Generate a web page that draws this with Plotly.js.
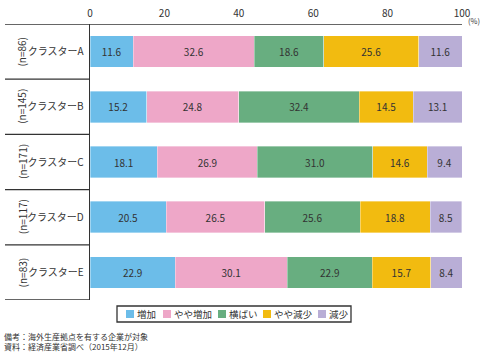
<!DOCTYPE html>
<html>
<head>
<meta charset="utf-8">
<script src="https://cdn.plot.ly/plotly-3.0.1.min.js"></script>
<style>html,body{margin:0;padding:0;background:#fff;}#chart{width:488px;height:353px;}</style>
</head>
<body>
<div id="chart"></div>
<script>
const categories = ["クラスターA", "クラスターB", "クラスターC", "クラスターD", "クラスターE"];
const sampleSizes = ["(n=86)", "(n=145)", "(n=171)", "(n=117)", "(n=83)"];
const seriesNames = ["増加", "やや増加", "横ばい", "やや減少", "減少"];
const seriesColors = ["#6cbde9", "#eea7c8", "#68ae80", "#f2bb10", "#b9aed6"];
const increase = [11.6, 15.2, 18.1, 20.5, 22.9];
const slightIncrease = [32.6, 24.8, 26.9, 26.5, 30.1];
const flat = [18.6, 32.4, 31.0, 25.6, 22.9];
const slightDecrease = [25.6, 14.5, 14.6, 18.8, 15.7];
const decrease = [11.6, 13.1, 9.4, 8.5, 8.4];
const xTicks = [0, 20, 40, 60, 80, 100];
const notes = ["備考：海外生産拠点を有する企業が対象", "資料：経済産業省調べ（2015年12月）"];

const seriesValues = [increase, slightIncrease, flat, slightDecrease, decrease];
const FONT = '"Noto Sans CJK JP", "Noto Sans", sans-serif';
const W = 488, H = 353, L = 90, R = 462, T = 24, B = 300;
const px = x => (x - L) / (R - L);
const py = y => (B - y) / (B - T);

const traces = seriesNames.map((name, i) => ({
  type: 'bar',
  orientation: 'h',
  name: name,
  y: categories,
  x: seriesValues[i],
  marker: {color: seriesColors[i], line: {color: 'rgba(255,255,255,0.6)', width: 0.6}},
  texttemplate: '%{x:.1f}',
  textposition: 'inside',
  insidetextanchor: 'middle',
  textangle: 0,
  textfont: {family: FONT, size: 10, color: '#333'},
  hoverinfo: 'skip'
}));

const shapes = [];
for (let k = 0; k <= categories.length; k++) {
  shapes.push({type: 'line', xref: 'paper', yref: 'y', x0: px(5), x1: k === 0 ? 1 : 0,
    y0: k - 0.5, y1: k - 0.5, line: {color: '#333', width: 1.3}});
}
// legend box
shapes.push({type: 'rect', xref: 'paper', yref: 'paper', x0: px(117), x1: px(351), y0: py(306), y1: py(322),
  line: {color: '#333', width: 1.3}, fillcolor: 'rgba(0,0,0,0)'});
const legendX = [126, 163, 218, 263, 318];
const annotations = [];
seriesNames.forEach((n, i) => {
  shapes.push({type: 'rect', xref: 'paper', yref: 'paper', x0: px(legendX[i]), x1: px(legendX[i] + 8),
    y0: py(318), y1: py(310), line: {width: 0}, fillcolor: seriesColors[i]});
  annotations.push({xref: 'paper', yref: 'paper', x: px(legendX[i] + 9), y: py(314), xanchor: 'left', yanchor: 'middle',
    text: n, showarrow: false, font: {family: FONT, size: 9.5, color: '#333'}});
});
sampleSizes.forEach((s, i) => {
  annotations.push({xref: 'paper', yref: 'y', x: px(22), y: categories[i], text: s, textangle: -90,
    showarrow: false, xanchor: 'center', yanchor: 'middle', font: {family: FONT, size: 10, color: '#333'}});
});
annotations.push({xref: 'paper', yref: 'paper', x: px(474), y: py(21), text: '(%)', showarrow: false,
  xanchor: 'center', yanchor: 'middle', font: {family: FONT, size: 7.5, color: '#333'}});
annotations.push({xref: 'paper', yref: 'paper', x: px(2), y: py(341), text: notes.join('<br>'), showarrow: false,
  xanchor: 'left', yanchor: 'middle', align: 'left', font: {family: FONT, size: 8, color: '#333'}});

const layout = {
  width: W, height: H,
  margin: {l: L, r: W - R, t: T, b: H - B, pad: 0},
  barmode: 'stack',
  bargap: 0.43,
  showlegend: false,
  paper_bgcolor: '#fff', plot_bgcolor: '#fff',
  font: {family: FONT, size: 10, color: '#333'},
  xaxis: {side: 'top', range: [0, 100], tickvals: xTicks, ticktext: xTicks.map(String), showgrid: false,
    zeroline: false, showline: false, ticks: '', ticklabelstandoff: 4, tickfont: {family: FONT, size: 10, color: '#333'},
    fixedrange: true},
  yaxis: {type: 'category', categoryorder: 'array', categoryarray: categories, range: [4.5, -0.5],
    showgrid: false, zeroline: false, showline: true, linecolor: '#333', linewidth: 1.3, ticks: '',
    ticklabelstandoff: 3, tickfont: {family: FONT, size: 10, color: '#333'}, fixedrange: true},
  shapes: shapes,
  annotations: annotations
};

Plotly.newPlot('chart', traces, layout, {displayModeBar: false, staticPlot: true});
</script>
</body>
</html>
